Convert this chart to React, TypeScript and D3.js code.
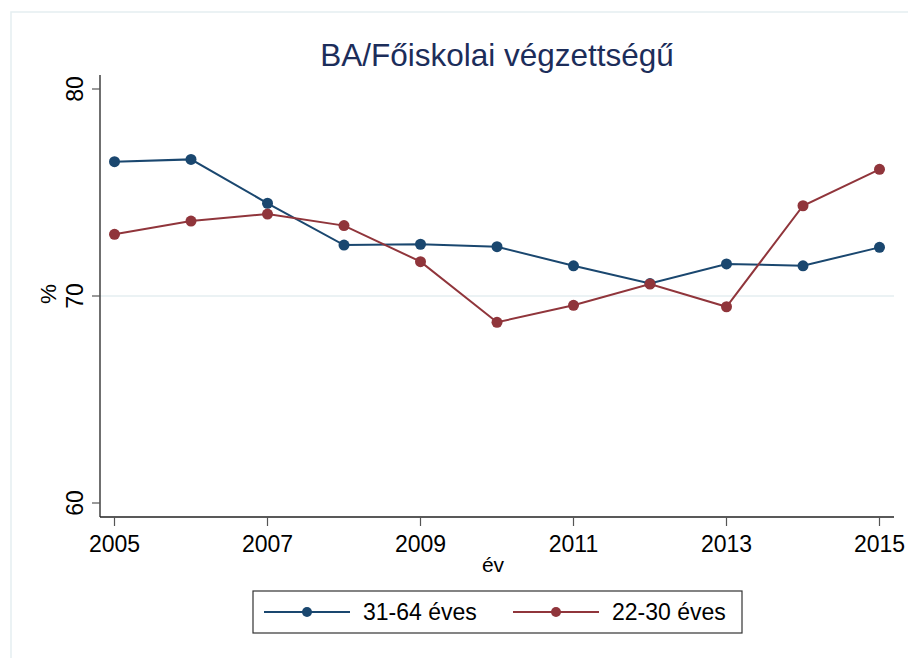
import React from "react";
import * as d3 from "d3";

const years = [2005, 2006, 2007, 2008, 2009, 2010, 2011, 2012, 2013, 2014, 2015];
const older = [76.49, 76.6, 74.48, 72.46, 72.5, 72.38, 71.46, 70.6, 71.55, 71.46, 72.35];
const younger = [72.98, 73.62, 73.96, 73.4, 71.66, 68.73, 69.55, 70.58, 69.48, 74.36, 76.12];
const xTicks = [2005, 2007, 2009, 2011, 2013, 2015];
const yTicks = [60, 70, 80];
const seriesNames = ["31-64 éves", "22-30 éves"];
const title = "BA/Főiskolai végzettségű";
const xLabel = "év";
const yLabel = "%";

const W = 908;
const H = 658;
const FONT = "'Liberation Sans', Arial, Helvetica, sans-serif";
const BLUE = "#1a476f";
const RED = "#90353b";
const GRID = "#e5eef1";

export default function App() {
  const x = d3.scaleLinear().domain([2005, 2015]).range([114.5, 879.5]);
  const y = d3.scaleLinear().domain([60, 80]).range([503, 89]);
  const axL = 100, axR = 894, axT = 75, axB = 517;

  const series = [
    { name: seriesNames[0], vals: older, color: BLUE },
    { name: seriesNames[1], vals: younger, color: RED },
  ];
  const line = d3
    .line<number>()
    .x((_, i) => x(years[i]))
    .y((d) => y(d));

  return (
    <svg
      width={W}
      height={H}
      style={{ position: "absolute", left: 0, top: 0, background: "#fff" }}
      fontFamily={FONT}
    >
      <rect x={11} y={12} width={W + 10} height={H + 10} fill="#fff" stroke={GRID} strokeWidth={1.5} />
      <text x={497} y={66} textAnchor="middle" fontSize={31.5} fill="#1c2d5a">
        {title}
      </text>
      {/* grid */}
      {yTicks
        .filter((t) => t === 70)
        .map((t) => (
          <line key={t} x1={axL} x2={axR} y1={y(t)} y2={y(t)} stroke={GRID} strokeWidth={1.5} />
        ))}
      {/* axes */}
      <line x1={axL} x2={axL} y1={axT} y2={axB} stroke="#222" strokeWidth={1.3} />
      <line x1={axL} x2={axR} y1={axB} y2={axB} stroke="#222" strokeWidth={1.3} />
      {yTicks.map((t) => (
        <g key={t}>
          <line x1={axL - 8} x2={axL} y1={y(t)} y2={y(t)} stroke="#555" strokeWidth={1.2} />
          <text
            transform={`translate(82.5,${y(t)}) rotate(-90)`}
            textAnchor="middle"
            fontSize={23}
            fill="#000"
          >
            {t}
          </text>
        </g>
      ))}
      {xTicks.map((t) => (
        <g key={t}>
          <line x1={x(t)} x2={x(t)} y1={axB} y2={axB + 9} stroke="#555" strokeWidth={1.2} />
          <text x={x(t)} y={552} textAnchor="middle" fontSize={23} fill="#000">
            {t}
          </text>
        </g>
      ))}
      <text transform={`translate(56,294) rotate(-90)`} textAnchor="middle" fontSize={22.5} fill="#000">
        {yLabel}
      </text>
      <text x={493} y={572} textAnchor="middle" fontSize={21} fill="#000">
        {xLabel}
      </text>
      {/* series */}
      {series.map((s) => (
        <g key={s.name}>
          <path d={line(s.vals) || ""} fill="none" stroke={s.color} strokeWidth={2} />
          {s.vals.map((v, i) => (
            <circle key={i} cx={x(years[i])} cy={y(v)} r={5.5} fill={s.color} />
          ))}
        </g>
      ))}
      {/* legend */}
      <rect x={253} y={591} width={489} height={42} fill="#fff" stroke="#333" strokeWidth={1.2} />
      {series.map((s, i) => {
        const x0 = i === 0 ? 264 : 513;
        return (
          <g key={s.name}>
            <line x1={x0} x2={x0 + 86} y1={612} y2={612} stroke={s.color} strokeWidth={2} />
            <circle cx={x0 + 43} cy={612} r={5} fill={s.color} />
            <text x={x0 + 99} y={620} fontSize={23} fill="#000">
              {s.name}
            </text>
          </g>
        );
      })}
    </svg>
  );
}
